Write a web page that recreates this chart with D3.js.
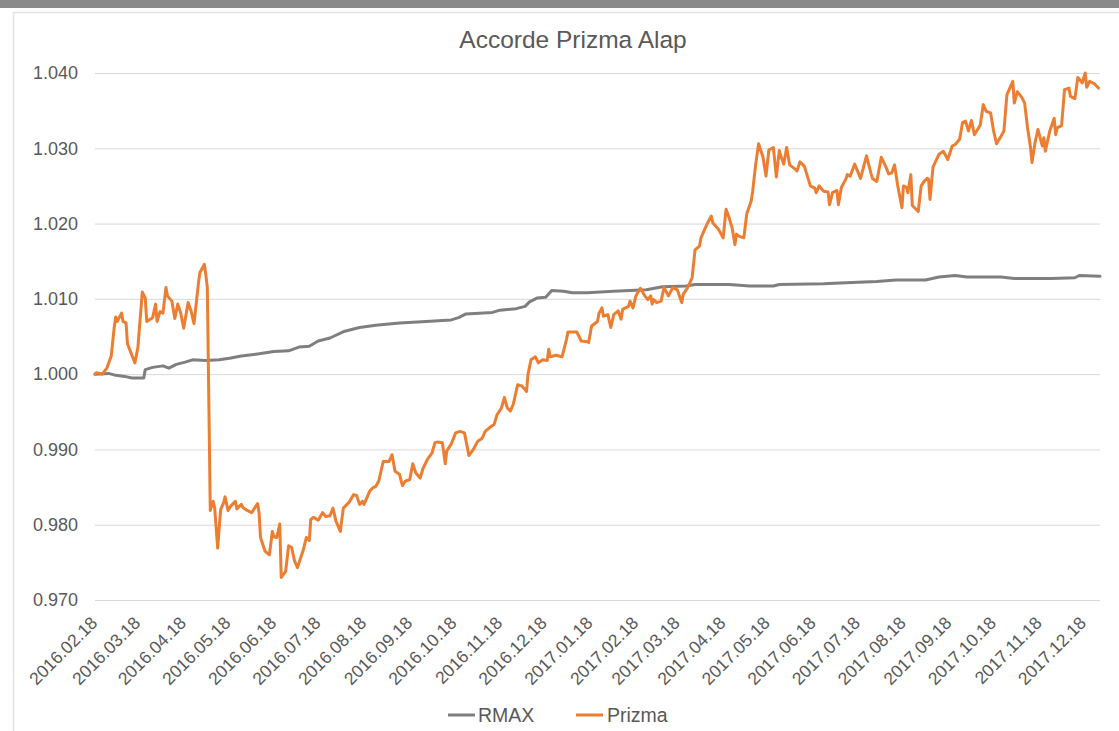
<!DOCTYPE html>
<html>
<head>
<meta charset="utf-8">
<script src="https://cdn.jsdelivr.net/npm/d3@7"></script>
<style>
  html, body { margin: 0; padding: 0; background: #ffffff; }
  svg { display: block; font-family: "Liberation Sans", Arial, Helvetica, sans-serif; }
</style>
</head>
<body>
<svg id="chart" width="1119" height="731"></svg>
<script>
const chartTitle = "Accorde Prizma Alap";
const seriesNames = ["RMAX", "Prizma"];
const seriesColors = ["#7f7f7f", "#ed7d31"];

const xTickLabels = ["2016.02.18","2016.03.18","2016.04.18","2016.05.18","2016.06.18","2016.07.18",
  "2016.08.18","2016.09.18","2016.10.18","2016.11.18","2016.12.18","2017.01.18","2017.02.18",
  "2017.03.18","2017.04.18","2017.05.18","2017.06.18","2017.07.18","2017.08.18","2017.09.18",
  "2017.10.18","2017.11.18","2017.12.18"];
const xDomain = ["2016-02-18", "2017-12-29"];
const yTicks = [0.970, 0.980, 0.990, 1.000, 1.010, 1.020, 1.030, 1.040];

const rmax = [
["2016-02-18",1.0000],["2016-02-27",1.0001],["2016-03-02",0.9999],["2016-03-09",0.9997],["2016-03-14",0.9995],
["2016-03-22",0.9995],["2016-03-23",1.0006],["2016-03-28",1.0009],["2016-04-04",1.0011],["2016-04-08",1.0008],
["2016-04-13",1.0013],["2016-04-19",1.0016],["2016-04-24",1.0019],["2016-05-03",1.0018],["2016-05-12",1.0019],
["2016-05-19",1.0021],["2016-05-27",1.0024],["2016-06-08",1.0027],["2016-06-18",1.0030],["2016-06-28",1.0031],
["2016-07-05",1.0036],["2016-07-12",1.0037],["2016-07-18",1.0044],["2016-07-26",1.0048],["2016-08-05",1.0057],
["2016-08-15",1.0062],["2016-08-26",1.0065],["2016-09-11",1.0068],["2016-09-29",1.0070],["2016-10-16",1.0072],
["2016-10-21",1.0075],["2016-10-26",1.0080],["2016-11-13",1.0082],["2016-11-18",1.0085],["2016-11-29",1.0087],
["2016-12-05",1.0090],["2016-12-08",1.0096],["2016-12-13",1.0101],["2016-12-19",1.0102],["2016-12-23",1.0111],
["2016-12-31",1.0110],["2017-01-06",1.0108],["2017-01-16",1.0108],["2017-01-25",1.0109],["2017-02-03",1.0110],
["2017-02-25",1.0112],["2017-03-08",1.0116],["2017-03-24",1.0117],["2017-03-30",1.0119],["2017-04-22",1.0119],
["2017-05-06",1.0117],["2017-05-22",1.0117],["2017-05-26",1.0119],["2017-06-25",1.0120],["2017-07-06",1.0121],
["2017-07-31",1.0123],["2017-08-13",1.0125],["2017-09-02",1.0125],["2017-09-11",1.0129],["2017-09-22",1.0131],
["2017-09-30",1.0129],["2017-10-23",1.0129],["2017-11-01",1.0127],["2017-11-26",1.0127],["2017-12-12",1.0128],
["2017-12-15",1.0131],["2017-12-29",1.0130]
];

const prizma = [
["2016-02-18",1.0000],["2016-02-19",1.0002],["2016-02-23",1.0000],["2016-02-26",1.0008],["2016-02-29",1.0024],
["2016-03-02",1.0062],["2016-03-03",1.0076],["2016-03-04",1.0070],["2016-03-07",1.0081],["2016-03-08",1.0070],
["2016-03-10",1.0068],["2016-03-11",1.0040],["2016-03-16",1.0015],["2016-03-18",1.0035],["2016-03-21",1.0109],
["2016-03-23",1.0101],["2016-03-24",1.0070],["2016-03-28",1.0075],["2016-03-30",1.0093],["2016-03-31",1.0070],
["2016-04-02",1.0083],["2016-04-04",1.0081],["2016-04-06",1.0115],["2016-04-07",1.0104],["2016-04-10",1.0097],
["2016-04-12",1.0074],["2016-04-14",1.0093],["2016-04-16",1.0081],["2016-04-18",1.0061],["2016-04-21",1.0095],
["2016-04-23",1.0084],["2016-04-25",1.0067],["2016-04-28",1.0121],["2016-04-29",1.0135],["2016-05-02",1.0146],
["2016-05-03",1.0132],["2016-05-04",1.0115],["2016-05-06",0.9819],["2016-05-08",0.9831],["2016-05-09",0.9822],
["2016-05-11",0.9769],["2016-05-13",0.9820],["2016-05-15",0.9829],["2016-05-16",0.9837],["2016-05-18",0.9819],
["2016-05-20",0.9825],["2016-05-23",0.9831],["2016-05-24",0.9821],["2016-05-27",0.9827],["2016-05-28",0.9823],
["2016-05-31",0.9819],["2016-06-03",0.9816],["2016-06-05",0.9822],["2016-06-07",0.9828],["2016-06-08",0.9816],
["2016-06-09",0.9783],["2016-06-12",0.9765],["2016-06-15",0.9760],["2016-06-17",0.9791],["2016-06-18",0.9784],
["2016-06-20",0.9783],["2016-06-22",0.9801],["2016-06-23",0.9730],["2016-06-26",0.9738],["2016-06-28",0.9772],
["2016-06-30",0.9770],["2016-07-02",0.9752],["2016-07-04",0.9743],["2016-07-08",0.9767],["2016-07-10",0.9783],
["2016-07-12",0.9779],["2016-07-13",0.9807],["2016-07-15",0.9810],["2016-07-18",0.9806],["2016-07-21",0.9816],
["2016-07-23",0.9811],["2016-07-26",0.9812],["2016-07-28",0.9822],["2016-07-30",0.9805],["2016-08-02",0.9791],
["2016-08-04",0.9822],["2016-08-08",0.9830],["2016-08-11",0.9840],["2016-08-13",0.9839],["2016-08-15",0.9827],
["2016-08-17",0.9831],["2016-08-18",0.9827],["2016-08-22",0.9845],["2016-08-24",0.9849],["2016-08-26",0.9851],
["2016-08-28",0.9858],["2016-08-31",0.9884],["2016-09-04",0.9884],["2016-09-06",0.9893],["2016-09-08",0.9871],
["2016-09-11",0.9867],["2016-09-13",0.9852],["2016-09-15",0.9858],["2016-09-18",0.9860],["2016-09-20",0.9881],
["2016-09-22",0.9869],["2016-09-25",0.9862],["2016-09-27",0.9875],["2016-09-30",0.9887],["2016-10-03",0.9895],
["2016-10-05",0.9909],["2016-10-07",0.9910],["2016-10-10",0.9909],["2016-10-12",0.9881],["2016-10-13",0.9898],
["2016-10-16",0.9907],["2016-10-19",0.9922],["2016-10-22",0.9924],["2016-10-25",0.9922],["2016-10-28",0.9892],
["2016-10-31",0.9900],["2016-11-03",0.9911],["2016-11-06",0.9915],["2016-11-08",0.9924],["2016-11-11",0.9929],
["2016-11-14",0.9933],["2016-11-16",0.9946],["2016-11-19",0.9955],["2016-11-21",0.9969],["2016-11-23",0.9955],
["2016-11-25",0.9951],["2016-11-27",0.9960],["2016-11-30",0.9986],["2016-12-03",0.9984],["2016-12-06",0.9977],
["2016-12-07",1.0000],["2016-12-09",1.0019],["2016-12-12",1.0023],["2016-12-14",1.0015],["2016-12-17",1.0019],
["2016-12-20",1.0018],["2016-12-21",1.0033],["2016-12-22",1.0023],["2016-12-26",1.0025],["2016-12-30",1.0023],
["2017-01-02",1.0046],["2017-01-03",1.0056],["2017-01-09",1.0056],["2017-01-12",1.0044],["2017-01-16",1.0043],
["2017-01-17",1.0042],["2017-01-19",1.0064],["2017-01-23",1.0070],["2017-01-24",1.0081],["2017-01-26",1.0088],
["2017-01-27",1.0077],["2017-01-30",1.0079],["2017-02-01",1.0062],["2017-02-03",1.0079],["2017-02-06",1.0084],
["2017-02-08",1.0073],["2017-02-09",1.0086],["2017-02-13",1.0090],["2017-02-14",1.0097],["2017-02-16",1.0088],
["2017-02-18",1.0104],["2017-02-21",1.0114],["2017-02-24",1.0104],["2017-02-26",1.0099],["2017-02-28",1.0104],
["2017-03-01",1.0093],["2017-03-02",1.0099],["2017-03-04",1.0095],["2017-03-07",1.0097],["2017-03-09",1.0115],
["2017-03-12",1.0104],["2017-03-15",1.0115],["2017-03-18",1.0112],["2017-03-21",1.0095],["2017-03-22",1.0106],
["2017-03-25",1.0115],["2017-03-28",1.0128],["2017-03-30",1.0165],["2017-04-02",1.0170],["2017-04-03",1.0181],
["2017-04-07",1.0199],["2017-04-10",1.0210],["2017-04-11",1.0201],["2017-04-15",1.0192],["2017-04-18",1.0181],
["2017-04-20",1.0219],["2017-04-22",1.0208],["2017-04-24",1.0195],["2017-04-26",1.0172],["2017-04-27",1.0186],
["2017-04-29",1.0183],["2017-05-02",1.0181],["2017-05-04",1.0213],["2017-05-07",1.0230],["2017-05-08",1.0243],
["2017-05-10",1.0278],["2017-05-12",1.0306],["2017-05-15",1.0288],["2017-05-17",1.0263],["2017-05-19",1.0298],
["2017-05-22",1.0301],["2017-05-24",1.0262],["2017-05-26",1.0297],["2017-05-27",1.0290],["2017-05-29",1.0279],
["2017-05-31",1.0301],["2017-06-02",1.0278],["2017-06-06",1.0272],["2017-06-07",1.0270],["2017-06-09",1.0282],
["2017-06-12",1.0276],["2017-06-14",1.0263],["2017-06-16",1.0250],["2017-06-19",1.0247],["2017-06-20",1.0241],
["2017-06-22",1.0250],["2017-06-25",1.0243],["2017-06-28",1.0242],["2017-06-29",1.0225],["2017-07-01",1.0241],
["2017-07-04",1.0244],["2017-07-05",1.0225],["2017-07-07",1.0248],["2017-07-10",1.0259],["2017-07-11",1.0265],
["2017-07-13",1.0263],["2017-07-16",1.0279],["2017-07-20",1.0260],["2017-07-24",1.0290],["2017-07-27",1.0267],
["2017-07-28",1.0260],["2017-07-31",1.0256],["2017-08-03",1.0288],["2017-08-06",1.0276],["2017-08-08",1.0266],
["2017-08-10",1.0267],["2017-08-12",1.0278],["2017-08-14",1.0252],["2017-08-17",1.0221],["2017-08-18",1.0250],
["2017-08-20",1.0248],["2017-08-21",1.0241],["2017-08-23",1.0265],["2017-08-24",1.0224],["2017-08-28",1.0216],
["2017-08-30",1.0250],["2017-09-01",1.0256],["2017-09-03",1.0260],["2017-09-04",1.0259],["2017-09-05",1.0232],
["2017-09-07",1.0275],["2017-09-11",1.0292],["2017-09-14",1.0296],["2017-09-17",1.0285],["2017-09-20",1.0303],
["2017-09-22",1.0305],["2017-09-25",1.0312],["2017-09-27",1.0334],["2017-09-29",1.0336],["2017-10-01",1.0323],
["2017-10-03",1.0337],["2017-10-05",1.0318],["2017-10-09",1.0331],["2017-10-11",1.0358],["2017-10-13",1.0349],
["2017-10-16",1.0347],["2017-10-18",1.0323],["2017-10-20",1.0306],["2017-10-23",1.0316],["2017-10-25",1.0323],
["2017-10-27",1.0371],["2017-10-31",1.0389],["2017-11-01",1.0360],["2017-11-03",1.0375],["2017-11-06",1.0368],
["2017-11-08",1.0360],["2017-11-10",1.0327],["2017-11-12",1.0301],["2017-11-13",1.0281],["2017-11-15",1.0307],
["2017-11-17",1.0325],["2017-11-20",1.0303],["2017-11-21",1.0314],["2017-11-22",1.0296],["2017-11-25",1.0323],
["2017-11-28",1.0340],["2017-11-29",1.0318],["2017-11-30",1.0327],["2017-12-03",1.0330],["2017-12-05",1.0378],
["2017-12-08",1.0380],["2017-12-09",1.0369],["2017-12-12",1.0366],["2017-12-14",1.0394],["2017-12-17",1.0387],
["2017-12-19",1.0400],["2017-12-20",1.0381],["2017-12-22",1.0389],["2017-12-25",1.0386],["2017-12-28",1.0380]
];

const parseISO = d3.timeParse("%Y-%m-%d");
const parseLabel = d3.timeParse("%Y.%m.%d");
const fmtLabel = d3.timeFormat("%Y.%m.%d");

const svg = d3.select("#chart");
const W = 1119, H = 731;
const plot = { left: 95, right: 1100, top: 73, bottom: 600 };

// frame
svg.append("rect").attr("x", 0).attr("y", 0).attr("width", W).attr("height", 8).attr("fill", "#8a8a8a");
svg.append("rect").attr("x", 13.5).attr("y", 12.5).attr("width", W).attr("height", H)
  .attr("fill", "#ffffff").attr("stroke", "#e3e3e3").attr("stroke-width", 1.5);

const x = d3.scaleTime().domain(xDomain.map(parseISO)).range([plot.left, plot.right]);
const y = d3.scaleLinear().domain([yTicks[0], yTicks[yTicks.length - 1]]).range([plot.bottom, plot.top]);

// y grid + labels
const yAxis = d3.axisLeft(y).tickValues(yTicks).tickFormat(d3.format(".3f"))
  .tickSize(-(plot.right - plot.left)).tickPadding(17);
const gy = svg.append("g").attr("transform", `translate(${plot.left},0)`).call(yAxis);
gy.select(".domain").remove();
gy.selectAll(".tick line").attr("stroke", "#d9d9d9").attr("stroke-width", 1);
gy.selectAll(".tick text").attr("fill", "#595959").style("font-size", "18px")
  .style("font-family", "'Liberation Sans', Arial, sans-serif");

// x labels
const xTicks = xTickLabels.map(parseLabel);
const xAxis = d3.axisBottom(x).tickValues(xTicks).tickFormat(fmtLabel).tickSize(0).tickPadding(0);
const gx = svg.append("g").attr("transform", `translate(0,${plot.bottom})`).call(xAxis);
gx.select(".domain").remove();
gx.selectAll(".tick text")
  .attr("fill", "#595959").style("font-size", "17.5px")
  .style("font-family", "'Liberation Sans', Arial, sans-serif")
  .attr("text-anchor", "end").attr("dy", 0).attr("y", 0)
  .attr("transform", "translate(3,24) rotate(-45)");

// lines
const line = d3.line().x(d => x(parseISO(d[0]))).y(d => y(d[1])).curve(d3.curveLinear);
[rmax, prizma].forEach((data, i) => {
  svg.append("path").datum(data).attr("d", line).attr("fill", "none")
    .attr("stroke", seriesColors[i]).attr("stroke-width", 3)
    .attr("stroke-linejoin", "round").attr("stroke-linecap", "round");
});

// title
svg.append("text").attr("x", 573).attr("y", 48).attr("text-anchor", "middle")
  .attr("fill", "#595959").style("font-size", "24.5px").text(chartTitle);

// legend
const legendItems = [{ x: 448, tx: 478 }, { x: 576, tx: 607 }];
seriesNames.forEach((name, i) => {
  const g = svg.append("g");
  g.append("line").attr("x1", legendItems[i].x).attr("x2", legendItems[i].x + 27)
    .attr("y1", 715).attr("y2", 715).attr("stroke", seriesColors[i]).attr("stroke-width", 3);
  g.append("text").attr("x", legendItems[i].tx).attr("y", 722).attr("fill", "#595959")
    .style("font-size", "19.5px").text(name);
});
</script>
</body>
</html>
